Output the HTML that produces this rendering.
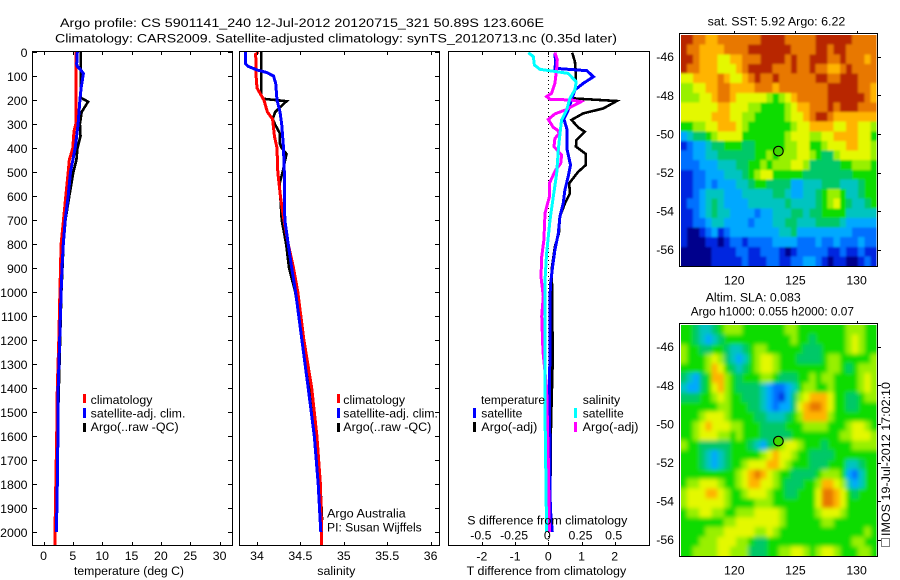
<!DOCTYPE html>
<html lang="en">
<head>
<meta charset="utf-8">
<title>Argo profile</title>
<style>
html,body{margin:0;padding:0;background:#fff;width:900px;height:580px;overflow:hidden}
svg{display:block}
text{font-family:"Liberation Sans",Arial,sans-serif;font-size:12.3px;fill:#000}
</style>
</head>
<body>
<svg id="chart" xmlns="http://www.w3.org/2000/svg" width="900" height="580" viewBox="0 0 900 580">
  <g>
    <text x="60" y="27" textLength="484" lengthAdjust="spacingAndGlyphs">Argo profile: CS 5901141_240 12-Jul-2012 20120715_321 50.89S 123.606E</text>
    <text x="55" y="42.5" textLength="562" lengthAdjust="spacingAndGlyphs">Climatology: CARS2009. Satellite-adjusted climatology: synTS_20120713.nc (0.35d later)</text>
  </g>
  <g id="series"></g>
  <g id="axes"></g>
  <g id="maps"></g>

  <text x="74" y="575" textLength="110" lengthAdjust="spacingAndGlyphs">temperature (deg C)</text>
  <text x="317.3" y="575" textLength="38" lengthAdjust="spacingAndGlyphs">salinity</text>
  <text x="466.7" y="575" textLength="159.5" lengthAdjust="spacingAndGlyphs">T difference from climatology</text>
  <text x="467.3" y="524.3" textLength="160" lengthAdjust="spacingAndGlyphs">S difference from climatology</text>

  <g>
    <rect x="83" y="394" width="3" height="9" fill="#f00"/>
    <text x="90.7" y="404" textLength="61.7" lengthAdjust="spacingAndGlyphs">climatology</text>
    <rect x="83" y="408" width="3" height="10" fill="#00f"/>
    <text x="90.7" y="417.3" textLength="94.7" lengthAdjust="spacingAndGlyphs">satellite-adj. clim.</text>
    <rect x="83" y="423" width="3" height="9" fill="#000"/>
    <text x="90.7" y="431" textLength="88" lengthAdjust="spacingAndGlyphs">Argo(..raw -QC)</text>
  </g>
  <g>
    <rect x="337" y="394" width="3" height="9" fill="#f00"/>
    <text x="343.3" y="404" textLength="61.7" lengthAdjust="spacingAndGlyphs">climatology</text>
    <rect x="337" y="408" width="3" height="10" fill="#00f"/>
    <text x="343.3" y="417.3" textLength="94.7" lengthAdjust="spacingAndGlyphs">satellite-adj. clim.</text>
    <rect x="337" y="423" width="3" height="9" fill="#000"/>
    <text x="343.3" y="431" textLength="88" lengthAdjust="spacingAndGlyphs">Argo(..raw -QC)</text>
    <text x="327" y="517.7" textLength="78.7" lengthAdjust="spacingAndGlyphs">Argo Australia</text>
    <text x="327" y="531.7" textLength="94.7" lengthAdjust="spacingAndGlyphs">PI: Susan Wijffels</text>
  </g>
  <g>
    <text x="481" y="404" textLength="64" lengthAdjust="spacingAndGlyphs">temperature</text>
    <rect x="473" y="408" width="3" height="10" fill="#00f"/>
    <text x="481.3" y="417.3" textLength="41" lengthAdjust="spacingAndGlyphs">satellite</text>
    <rect x="473" y="422" width="3" height="10" fill="#000"/>
    <text x="481.3" y="431" textLength="56" lengthAdjust="spacingAndGlyphs">Argo(-adj)</text>
    <text x="582.7" y="404" textLength="37.5" lengthAdjust="spacingAndGlyphs">salinity</text>
    <rect x="574" y="408" width="3" height="10" fill="#0ff"/>
    <text x="582.7" y="417.3" textLength="41" lengthAdjust="spacingAndGlyphs">satellite</text>
    <rect x="574" y="422" width="3" height="10" fill="#f0f"/>
    <text x="582.7" y="431" textLength="55.7" lengthAdjust="spacingAndGlyphs">Argo(-adj)</text>
  </g>

  <text x="707.7" y="25.7" textLength="137.6" lengthAdjust="spacingAndGlyphs">sat. SST: 5.92 Argo: 6.22</text>
  <text x="705.7" y="301.7" textLength="95" lengthAdjust="spacingAndGlyphs">Altim. SLA: 0.083</text>
  <text x="690.7" y="315.7" textLength="163.3" lengthAdjust="spacingAndGlyphs">Argo h1000: 0.055 h2000: 0.07</text>

  <rect x="881.5" y="538.5" width="8" height="8" fill="none" stroke="#000" stroke-width="1" stroke-dasharray="1 1"/>
  <text transform="translate(890,536) rotate(-90)" x="0" y="0" textLength="154" lengthAdjust="spacingAndGlyphs">IMOS 19-Jul-2012 17:02:10</text>
</svg>

<script>
// ---------- axis tick values ----------
const depthTicks = [0,100,200,300,400,500,600,700,800,900,1000,1100,1200,1300,1400,1500,1600,1700,1800,1900,2000];
const tempTicks = [0,5,10,15,20,25,30];
const salTicks = [34,34.5,35,35.5,36];
const salTickLabels = ['34','34.5','35','35.5','36'];
const tDiffTicks = [-2,-1,0,1,2];
const sDiffTicks = [-0.5,-0.25,0,0.25,0.5];
const sDiffTickLabels = ['-0.5','-0.25','0','0.25','0.5'];
const mapLonTicks = [120,125,130];
const mapLatTicks = [46,48,50,52,54,56];

// ---------- temperature profiles ----------
const tempClimDepth = [0,100,200,300,330,400,450,500,600,700,800,900,1000,1200,1400,1600,1800,2000,2054];
const tempClimValue = [5.5,5.5,5.5,5.5,5.2,5.0,4.4,4.2,3.8,3.4,3.0,2.9,2.8,2.6,2.35,2.25,2.1,1.96,1.96];
const tempSatDepth = [0,50,60,70,90,150,200,300,400,500,600,700,800,900,1000,1400,1500,1800,2000];
const tempSatValue = [5.76,5.65,5.75,6.2,6.8,6.4,6.2,5.9,5.4,4.6,4.2,3.7,3.37,3.15,3.0,2.5,2.5,2.35,2.2];
const tempArgoDepth = [0,100,190,195,207,250,300,350,400,450,500,600,700,800,1000,1500,1850,1950];
const tempArgoValue = [6.33,6.33,6.33,6.7,7.6,6.5,6.2,6.3,5.8,5.6,5.1,4.4,3.75,3.4,3.05,2.5,2.2,2.1];

// ---------- salinity profiles ----------
const salClimDepth = [0,10,100,150,200,250,280,350,400,500,600,700,800,900,1000,1200,1400,1600,1800,2000,2054];
const salClimValue = [34.015,33.985,33.99,34.0,34.08,34.12,34.18,34.2,34.23,34.24,34.27,34.31,34.36,34.42,34.47,34.54,34.63,34.69,34.73,34.745,34.745];
const salSatDepth = [0,50,60,75,85,100,130,200,250,300,400,500,700,800,900,1000,1400,1600,1800,2000];
const salSatValue = [33.87,33.87,33.9,34.0,34.11,34.19,34.215,34.23,34.265,34.285,34.305,34.315,34.32,34.36,34.4,34.445,34.59,34.66,34.705,34.735];
const salArgoDepth = [0,180,195,205,250,280,310,340,380,400,425,500,550,700,800,900,1000,1600,1800,1950];
const salArgoValue = [34.05,34.05,34.073,34.34,34.21,34.18,34.22,34.265,34.26,34.285,34.34,34.295,34.26,34.285,34.335,34.37,34.44,34.69,34.73,34.75];

// ---------- difference profiles ----------
const tDiffArgoDepth = [3,40,89,130,158,193,204,235,256,283,314,332,367,394,425,471,499,547,589,631,686,756,811,908,1019,1300,1550,1950];
const tDiffArgoValue = [0.72,0.80,0.83,0.83,0.80,0.70,2.06,1.66,1.05,0.70,0.90,1.10,0.85,0.83,1.13,1.13,0.90,0.63,0.65,0.50,0.35,0.32,0.20,0.10,0.12,0.13,0.08,0.05];
const tDiffSatDepth = [3,47,68,78,103,131,158,200,242,279,325,408,471,519,575,631,686,756,825,894,964,1019,1500,1900,2000];
const tDiffSatValue = [0.20,0.22,0.20,1.16,1.36,1.05,0.80,0.70,0.60,0.47,0.57,0.57,0.67,0.60,0.50,0.45,0.35,0.30,0.20,0.13,0.07,0.05,0.04,0.06,0.12];
const sDiffArgoDepth = [3,33,68,131,172,186,197,200,207,242,258,281,314,325,339,360,394,429,464,492,547,603,672,783,853,936,1019,1100,1250,1400,1700,2000];
const sDiffArgoValue = [0.05,0.068,0.063,0.05,0.025,-0.013,0.013,0.176,0.246,0.126,0.05,0,0.038,0.068,0.083,0.05,0.043,0.10,0.093,0.055,0.008,0.008,-0.025,-0.033,-0.05,-0.055,-0.038,-0.05,-0.04,-0.013,0,0.008];
const sDiffSatDepth = [3,19,54,72,82,89,124,158,193,242,283,339,408,506,603,700,839,950,1019,1500,2000];
const sDiffSatValue = [-0.15,-0.113,-0.105,-0.063,0.063,0.15,0.21,0.20,0.163,0.138,0.10,0.088,0.075,0.063,0.038,0.013,-0.013,-0.025,-0.025,-0.025,-0.013];

// ---------- map fields (colour level per grid cell, north to south) ----------
const sstLevels = [
[11,11,10,10,9,9,10,10,10,10,10,10,10,11,11,11,11,10,10,10,10,10,11,11,11,11,11,11,10,10,10,10],
[11,10,10,9,9,9,9,10,10,10,10,11,11,11,11,11,11,11,10,10,10,10,11,11,10,11,11,10,10,10,10,10],
[11,11,10,9,9,9,8,8,9,9,10,10,10,11,11,11,11,10,11,10,10,11,11,11,10,10,11,10,10,10,9,10],
[11,10,10,9,9,9,8,8,8,9,10,11,11,11,11,10,10,10,11,10,10,11,10,10,9,9,10,11,10,10,10,10],
[8,8,9,9,9,9,10,9,8,8,9,10,11,10,10,11,10,10,10,10,10,10,11,11,10,10,11,11,11,10,10,10],
[7,7,8,8,9,9,10,10,9,9,9,9,10,10,10,9,10,10,10,10,10,10,10,10,11,11,11,11,11,10,10,9],
[7,7,7,8,8,9,10,10,9,8,8,8,8,8,7,6,7,8,9,10,10,10,10,10,11,11,11,11,11,11,10,9],
[8,8,8,8,8,8,9,9,8,8,8,7,7,6,6,6,6,7,8,9,9,10,10,10,11,10,11,11,11,10,10,10],
[8,8,8,8,8,9,9,9,8,8,7,7,6,6,6,6,6,7,8,8,9,10,11,11,10,9,9,9,9,9,9,9],
[6,6,7,7,8,8,9,9,9,8,7,6,6,6,6,6,6,6,7,8,8,9,9,9,9,8,8,9,9,8,8,7],
[3,4,5,5,6,7,8,8,8,8,6,6,6,6,6,6,6,7,8,8,8,7,7,8,8,9,9,9,9,8,8,6],
[1,2,3,3,4,5,5,6,6,6,5,5,6,6,6,6,6,7,7,8,8,6,6,7,8,8,8,9,9,8,8,7],
[2,2,3,3,4,4,5,5,5,5,5,5,6,6,7,6,7,7,7,8,8,7,6,5,5,7,8,8,8,8,8,7],
[2,2,2,3,3,3,4,4,4,5,5,6,6,7,6,7,7,7,8,8,7,5,5,5,5,5,6,6,7,7,7,6],
[1,1,2,2,3,3,3,4,4,4,5,6,7,8,8,6,6,6,6,6,5,5,5,5,5,5,5,5,6,6,6,6],
[1,1,2,2,3,2,3,3,3,4,4,5,6,6,5,5,5,5,3,3,4,4,4,5,5,5,4,4,4,5,6,6],
[1,1,2,3,4,4,4,3,3,3,4,4,4,4,4,5,5,4,3,3,4,4,5,6,7,7,6,4,4,5,6,6],
[1,2,2,3,4,5,4,3,3,3,3,4,4,4,4,4,4,5,4,4,4,4,5,6,7,8,6,5,4,4,5,6],
[1,1,2,3,4,5,4,4,3,3,3,3,2,3,3,4,4,4,5,5,4,5,5,6,6,6,6,4,4,4,4,4],
[1,1,2,2,3,4,4,3,3,3,3,2,3,3,3,4,4,5,5,4,4,4,5,5,5,5,4,3,3,3,3,3],
[1,0,0,1,2,3,1,2,3,3,3,3,3,3,3,3,4,4,5,3,3,3,3,3,3,3,3,3,2,2,2,2],
[1,0,0,0,1,1,0,1,2,2,1,2,2,2,2,3,3,3,3,2,2,2,3,2,2,3,2,2,2,3,2,2],
[0,0,0,0,0,1,1,1,1,2,2,1,1,2,2,2,1,0,1,2,2,2,2,2,1,1,2,1,1,2,1,1],
[0,0,0,0,0,1,1,1,1,1,2,1,1,1,2,2,1,1,2,2,3,3,2,1,0,1,1,0,0,1,2,1]
];
const slaLevels = [
[6,6,5,4,4,5,6,7,7,7,6,6,6,6,6,6,6,7,7,6,6,6,6,6,6,6,6,7,7,7,6,6],
[6,6,5,4,3,4,5,6,6,6,6,6,6,6,6,6,6,6,7,6,6,5,6,6,6,6,6,7,8,7,6,6],
[7,6,6,5,5,6,6,5,4,4,5,6,7,7,6,6,6,6,6,6,5,5,5,6,6,6,6,7,8,7,6,6],
[7,6,6,6,7,8,7,5,4,3,4,6,7,8,8,7,6,6,6,5,5,5,5,6,7,7,6,6,6,6,6,7],
[6,6,6,6,7,9,8,6,5,4,5,6,7,8,8,7,6,6,6,6,6,6,6,6,7,7,6,5,6,7,7,7],
[5,4,3,5,6,9,9,7,6,5,6,6,6,7,7,6,5,5,5,6,6,7,6,7,7,6,6,6,6,7,8,7],
[4,3,3,5,6,8,9,7,6,5,5,5,5,4,3,2,2,3,4,6,7,7,6,6,7,6,6,6,6,7,8,7],
[5,5,5,6,6,7,8,7,6,6,5,5,5,4,3,2,1,3,5,7,8,9,9,9,8,6,6,5,5,6,7,7],
[6,6,6,6,6,6,7,7,6,6,6,5,5,4,3,2,3,3,5,8,9,10,10,9,8,6,6,5,5,6,6,6],
[6,6,6,7,8,8,8,7,6,6,6,6,5,5,4,4,4,5,6,7,9,9,9,9,7,6,6,6,6,6,6,6],
[6,6,7,8,9,8,8,8,7,7,6,6,6,5,5,5,5,6,6,6,7,7,7,7,6,6,6,7,8,8,7,6],
[6,6,7,8,8,8,7,7,6,7,6,6,6,5,5,5,5,5,6,6,6,6,6,6,6,6,7,7,8,8,8,7],
[7,6,6,5,5,5,5,5,6,6,6,5,4,3,5,6,7,8,8,7,6,6,6,5,6,6,6,6,7,7,7,7],
[6,6,6,5,4,3,4,5,6,6,6,6,6,7,8,9,8,8,7,6,6,5,5,5,5,6,6,6,6,6,6,6],
[6,6,6,5,4,3,4,5,6,6,7,8,8,8,9,9,8,7,6,6,6,5,5,5,6,6,6,4,4,5,6,6],
[6,6,6,6,6,6,6,6,6,7,8,9,10,9,8,7,6,6,5,5,5,5,6,7,7,7,6,3,2,4,6,6],
[6,7,7,8,8,8,7,6,6,7,8,9,9,8,8,7,6,5,5,5,6,6,7,9,9,8,7,4,3,4,6,6],
[7,8,8,8,9,9,8,7,6,6,7,8,8,8,7,6,6,5,5,6,6,6,8,10,10,9,8,6,5,6,6,6],
[7,8,8,8,8,8,8,7,6,6,6,6,7,7,7,6,6,6,6,6,6,6,8,10,10,9,8,6,6,6,6,6],
[6,7,7,8,8,7,7,6,6,7,7,7,8,8,8,8,7,6,6,6,6,6,7,8,8,8,7,6,6,6,6,6],
[6,6,6,6,6,6,6,7,7,8,8,8,8,8,8,8,7,6,6,6,6,6,6,7,7,6,6,6,6,6,6,6],
[6,6,6,6,7,7,7,8,8,8,8,8,7,7,8,7,6,6,6,6,6,6,6,6,6,6,6,6,6,6,7,6],
[6,6,6,7,7,7,8,8,8,7,7,6,5,5,6,6,6,6,6,6,6,6,6,6,6,6,6,6,7,7,6,6],
[6,6,7,7,7,7,8,8,7,7,7,5,5,5,6,6,7,7,8,8,7,6,7,8,8,7,6,6,6,7,7,6]
];
const floatLon = 123.606;
const floatLat = 50.89;

// ---------- drawing ----------
const NS = 'http://www.w3.org/2000/svg';
const palette = ['#00008c','#0028e0','#0070ff','#00a8ff','#00c4c0','#00c868','#10dc00','#98f000','#e4f800','#ffb400','#e87800','#b82800'];
const series = document.getElementById('series');
const axes = document.getElementById('axes');
const maps = document.getElementById('maps');

function make(tag, parent, attrs) {
  const el = document.createElementNS(NS, tag);
  for (const k in attrs) el.setAttribute(k, attrs[k]);
  parent.appendChild(el);
  return el;
}
function yDepth(d) { return 52 + 0.24 * d; }
function xTemp(v) { return 43.5 + 5.87 * v; }
function xSal(v) { return 257 + 86.8 * (v - 34); }
function xTDiff(v) { return 548.3 + 33.2 * v; }
function xSDiff(v) { return 548.3 + 132.8 * v; }
function xLon(v) { return 734.3 + 12.23 * (v - 120); }
function yLatSst(v) { return 56.7 + 19.3 * (v - 46); }
function yLatSla(v) { return 346.7 + 19.3 * (v - 46); }

function profile(name, depth, value, xScale, colour, width) {
  const pts = depth.map((d, i) => xScale(value[i]).toFixed(1) + ',' + yDepth(d).toFixed(1));
  const el = make('polyline', series, {points: pts.join(' '), fill: 'none', stroke: colour, 'stroke-width': width, 'shape-rendering': 'crispEdges', 'stroke-linejoin': 'miter'});
  
  
}
function tickLine(x1, y1, x2, y2) {
  const el = make('line', axes, {x1: x1, y1: y1, x2: x2, y2: y2, stroke: '#000', 'stroke-width': 1, 'shape-rendering': 'crispEdges'});
  
  
}
function tickText(x, y, anchor, label) {
  const el = make('text', axes, {x: x, y: y, 'text-anchor': anchor});
  el.textContent = label;
  
  
}
function frame(name, x, y, w, h) {
  const el = make('rect', axes, {x: x, y: y, width: w, height: h, fill: 'none', stroke: '#000', 'stroke-width': 1, 'shape-rendering': 'crispEdges'});
  
  
}

// dotted zero line for the difference panel
const zeroLine = make('line', series, {x1: Math.round(xTDiff(0)) + 0.5, y1: 52, x2: Math.round(xTDiff(0)) + 0.5, y2: 545, stroke: '#000', 'stroke-width': 1, 'stroke-dasharray': '1 3', 'shape-rendering': 'crispEdges'});



profile('temperature-argo-line', tempArgoDepth, tempArgoValue, xTemp, '#000', 2.6);
profile('temperature-climatology-line', tempClimDepth, tempClimValue, xTemp, '#f00', 3);
profile('temperature-satellite-line', tempSatDepth, tempSatValue, xTemp, '#00f', 3);
profile('salinity-argo-line', salArgoDepth, salArgoValue, xSal, '#000', 2.6);
profile('salinity-climatology-line', salClimDepth, salClimValue, xSal, '#f00', 3);
profile('salinity-satellite-line', salSatDepth, salSatValue, xSal, '#00f', 3);
profile('t-difference-argo-line', tDiffArgoDepth, tDiffArgoValue, xTDiff, '#000', 2.6);
profile('t-difference-satellite-line', tDiffSatDepth, tDiffSatValue, xTDiff, '#00f', 3);
profile('s-difference-argo-line', sDiffArgoDepth, sDiffArgoValue, xSDiff, '#f0f', 3);
profile('s-difference-satellite-line', sDiffSatDepth, sDiffSatValue, xSDiff, '#0ff', 3);

// profile panels
frame('temperature-panel-frame', 32.5, 51.5, 200, 494);
frame('salinity-panel-frame', 239.5, 51.5, 200, 494);
frame('difference-panel-frame', 448.5, 51.5, 201, 494);

depthTicks.forEach(d => {
  const y = Math.round(yDepth(d)) + 0.5;
  tickLine(33, y, 37, y);
  tickLine(228, y, 232, y);
  tickLine(435, y, 439, y);
  tickText(27.5, y + 4.5, 'end', String(d));
});
tempTicks.forEach(v => {
  const x = Math.round(xTemp(v)) + 0.5;
  tickLine(x, 52, x, 55);
  tickLine(x, 542, x, 545);
  tickText(xTemp(v), 560, 'middle', String(v));
});
salTicks.forEach((v, i) => {
  const x = Math.round(xSal(v)) + 0.5;
  tickLine(x, 52, x, 55);
  tickLine(x, 542, x, 545);
  tickText(xSal(v), 560, 'middle', salTickLabels[i]);
});
tDiffTicks.forEach(v => {
  const x = Math.round(xTDiff(v)) + 0.5;
  tickLine(x, 52, x, 55);
  tickLine(x, 542, x, 545);
  tickText(xTDiff(v), 560.7, 'middle', String(v));
});
sDiffTicks.forEach((v, i) => {
  tickText(xSDiff(v) - 1, 539.3, 'middle', sDiffTickLabels[i]);
});

// map panels
const defs = make('defs', maps, {});
function drawMap(name, levels, top, yLat, markerFill, blur) {
  const g = make('g', maps, {});
  
  
  const left = 681, width = 195.5, height = 231, pad = 12;
  const clip = make('clipPath', defs, {id: name + '-clip'});
  make('rect', clip, {x: left, y: top + 1, width: width, height: height});
  const filter = make('filter', defs, {id: name + '-blur', filterUnits: 'userSpaceOnUse', x: left - 20, y: top - 20, width: width + 40, height: height + 40});
  make('feGaussianBlur', filter, {stdDeviation: blur});
  const clipGroup = make('g', g, {'clip-path': 'url(#' + name + '-clip)'});
  
  
  const cells = make('g', clipGroup, {filter: 'url(#' + name + '-blur)'});
  const cw = width / levels[0].length;
  const ch = height / levels.length;
  const lastRow = levels.length - 1;
  levels.forEach((row, r) => {
    const lastCol = row.length - 1;
    row.forEach((level, c) => {
      // edge cells run past the clip so the smoothing does not fade at the border
      const x0 = left + c * cw - (c === 0 ? pad : 0);
      const y0 = top + 1 + r * ch - (r === 0 ? pad : 0);
      const w = cw + 0.6 + (c === 0 || c === lastCol ? pad : 0);
      const h = ch + 0.6 + (r === 0 || r === lastRow ? pad : 0);
      const cell = make('rect', cells, {x: x0.toFixed(2), y: y0.toFixed(2), width: w.toFixed(2), height: h.toFixed(2), fill: palette[level], 'shape-rendering': 'crispEdges'});
      
      
    });
  });
  const box = make('rect', g, {x: 679.5, y: top - 0.5, width: 198, height: 233, fill: 'none', stroke: '#000', 'stroke-width': 1, 'shape-rendering': 'crispEdges'});
  
  
  mapLonTicks.forEach(v => {
    const x = Math.round(xLon(v)) + 0.5;
    const t = make('line', g, {x1: x, y1: top - 3, x2: x, y2: top, stroke: '#000', 'shape-rendering': 'crispEdges'});
    
    
    const l = make('text', g, {x: xLon(v), y: top + 250.3, 'text-anchor': 'middle'});
    l.textContent = String(v);
    
    
  });
  mapLatTicks.forEach(v => {
    const y = Math.round(yLat(v)) + 0.5;
    const t = make('line', g, {x1: 878, y1: y, x2: 881, y2: y, stroke: '#000', 'shape-rendering': 'crispEdges'});
    
    
    const l = make('text', g, {x: 674, y: yLat(v) + 4.5, 'text-anchor': 'end'});
    l.textContent = '-' + v;
    
    
  });
  const m = make('circle', g, {cx: xLon(floatLon), cy: yLat(floatLat), r: 4.8, fill: markerFill, stroke: '#000', 'stroke-width': 1.1});
  
  
}
drawMap('sst-map', sstLevels, 34, yLatSst, '#40d800', 1);
drawMap('sla-map', slaLevels, 324, yLatSla, '#40d800', 2);
</script>
</body>
</html>
